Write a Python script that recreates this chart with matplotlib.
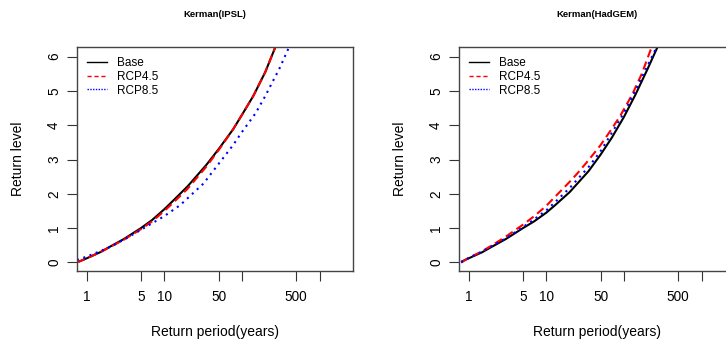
import matplotlib
matplotlib.use('Agg')
import matplotlib.pyplot as plt
from matplotlib.lines import Line2D

plt.rcParams['font.family'] = ['Liberation Sans', 'DejaVu Sans']

# return periods (years) and return levels
ipsl_base_t = [0.79, 1, 1.5, 2, 3, 5, 7, 10, 13, 20, 35, 50, 77, 100, 140, 200, 270, 300]
ipsl_base = [0.02, 0.12, 0.30, 0.46, 0.68, 1.00, 1.24, 1.55, 1.80, 2.22, 2.85, 3.30, 3.88, 4.30, 4.85, 5.55, 6.28, 6.60]
ipsl_rcp45_t = [0.75, 0.8, 1, 1.5, 2, 3, 5, 7, 10, 13, 20, 35, 50, 77, 100, 140, 200, 270, 300]
ipsl_rcp45 = [0.0, 0.03, 0.12, 0.30, 0.45, 0.66, 0.97, 1.20, 1.50, 1.74, 2.15, 2.80, 3.27, 3.88, 4.30, 4.85, 5.55, 6.28, 6.60]
ipsl_rcp85_t = [0.75, 1, 1.5, 2, 3, 5, 10, 16, 32, 52, 77, 100, 150, 200, 250, 300, 400, 500]
ipsl_rcp85 = [0.07, 0.17, 0.33, 0.45, 0.66, 0.95, 1.35, 1.67, 2.30, 2.92, 3.42, 3.80, 4.35, 4.85, 5.28, 5.62, 6.25, 6.70]

hadgem_base_t = [0.8, 1, 1.5, 2, 3, 5, 7, 10, 13, 20, 35, 50, 70, 100, 140, 200, 280]
hadgem_base = [0.02, 0.12, 0.30, 0.46, 0.68, 1.00, 1.20, 1.45, 1.67, 2.05, 2.66, 3.14, 3.64, 4.24, 4.88, 5.62, 6.35]
hadgem_rcp45_t = [0.8, 1, 1.5, 2, 3, 5, 7, 10, 12.4, 20, 25, 35, 50, 70, 90, 127, 170, 228, 260]
hadgem_rcp45 = [0.0, 0.13, 0.33, 0.50, 0.75, 1.10, 1.35, 1.65, 1.87, 2.35, 2.59, 2.98, 3.42, 3.90, 4.28, 4.88, 5.50, 6.28, 6.60]
hadgem_rcp85_t = [0.8, 1, 1.5, 2, 3, 5, 7, 10, 13, 20, 35, 50, 70, 100, 140, 200, 265, 300]
hadgem_rcp85 = [0.0, 0.13, 0.32, 0.48, 0.70, 1.03, 1.26, 1.52, 1.76, 2.17, 2.78, 3.24, 3.78, 4.36, 5.00, 5.72, 6.28, 6.60]

xticks = [1, 5, 10, 50, 100, 500, 1000]
xticklabels = ['1', '5', '10', '50', '', '500', '']
yticks = [0, 1, 2, 3, 4, 5, 6]

panels = [
    ('Kerman(IPSL)', (ipsl_base_t, ipsl_base), (ipsl_rcp45_t, ipsl_rcp45), (ipsl_rcp85_t, ipsl_rcp85)),
    ('Kerman(HadGEM)', (hadgem_base_t, hadgem_base), (hadgem_rcp45_t, hadgem_rcp45), (hadgem_rcp85_t, hadgem_rcp85)),
]

fig = plt.figure(figsize=(7.26, 3.43), dpi=100)
lefts = [77 / 726, 459 / 726]

for left, (title, base, rcp45, rcp85) in zip(lefts, panels):
    ax = fig.add_axes([left, 72 / 343, 276 / 726, 224 / 343])
    ax.plot(base[0], base[1], color='black', lw=1.5, solid_capstyle='butt')
    ax.plot(rcp45[0], rcp45[1], color='red', lw=1.5, dashes=(4, 2.2), dash_capstyle='butt')
    ax.plot(rcp85[0], rcp85[1], color='blue', lw=1.5, dashes=(1, 2.2), dash_capstyle='butt')

    ax.set_xscale('log')
    ax.set_xlim(0.75, 2700)
    ax.set_ylim(-0.25, 6.28)
    ax.set_xticks(xticks)
    ax.set_xticklabels(xticklabels)
    ax.minorticks_off()
    ax.set_yticks(yticks)
    ax.set_yticklabels([str(v) for v in yticks], rotation=90, va='center')
    ax.tick_params(axis='both', length=7, width=0.8, labelsize=9.8, color='#333333')
    ax.tick_params(axis='x', pad=7)
    ax.tick_params(axis='y', pad=4.5)

    for s in ax.spines.values():
        s.set_linewidth(1.0)
        s.set_color('#444444')

    ax.set_xlabel('Return period(years)', fontsize=10, va='center')
    ax.xaxis.set_label_coords(0.5, -0.272)
    ax.set_ylabel('Return level', fontsize=10, va='center')
    ax.yaxis.set_label_coords(-0.214, 0.5)

    ax.text(0.5, 1.143, title, transform=ax.transAxes, ha='center', va='center',
            fontsize=6.8, fontweight='bold')

    handles = [Line2D([], [], color='black', lw=1),
               Line2D([], [], color='red', lw=1, dashes=(3, 2)),
               Line2D([], [], color='blue', lw=1, dashes=(1, 1))]
    ax.legend(handles, ['Base', 'RCP4.5', 'RCP8.5'], loc='upper left',
              bbox_to_anchor=(0.036, 0.955), borderaxespad=0, borderpad=0,
              frameon=False, fontsize=8.5, handlelength=1.7, handletextpad=0.85,
              labelspacing=0.15)

fig.savefig('out.png', dpi=100)
